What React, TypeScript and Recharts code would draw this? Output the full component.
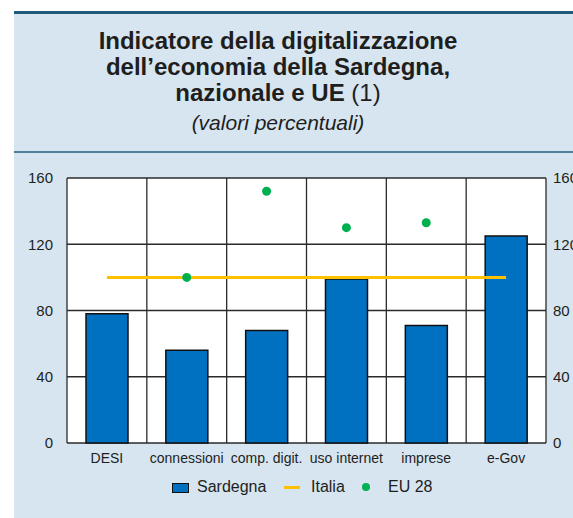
import { Bar, CartesianGrid, ComposedChart, Legend, Line, XAxis, YAxis } from "recharts";

const categories = ["DESI", "connessioni", "comp. digit.", "uso internet", "imprese", "e-Gov"];
const sardegna = [78, 56, 68, 99, 71, 125];
const italia = [100, 100, 100, 100, 100, 100];
const eu28: (number | null)[] = [null, 100, 152, 130, 133, null];
const yTicks = [0, 40, 80, 120, 160];

const data = categories.map((name, i) => ({
  name,
  sardegna: sardegna[i],
  italia: italia[i],
  eu: eu28[i],
}));

const FONT = "'Liberation Sans', Arial, sans-serif";
const PANEL = "#d6e5ef";
const TEXT = "#1e1e1e";

function LegendBox() {
  const item = { position: "absolute" as const, top: 0, lineHeight: "20px" };
  return (
    <div style={{ position: "relative", height: 20, fontFamily: FONT, fontSize: 16, color: TEXT }}>
      <span style={{ position: "absolute", left: 172, top: 6, width: 15, height: 8, background: "#0070c0", border: "1.5px solid #111" }} />
      <span style={{ ...item, left: 197 }}>Sardegna</span>
      <span style={{ position: "absolute", left: 284, top: 9, width: 16, height: 3, background: "#ffc000" }} />
      <span style={{ ...item, left: 311 }}>Italia</span>
      <span style={{ position: "absolute", left: 362, top: 6, width: 8, height: 8, borderRadius: 4, background: "#00b050" }} />
      <span style={{ ...item, left: 388 }}>EU 28</span>
    </div>
  );
}

export default function App() {
  return (
    <div style={{ position: "absolute", left: 0, top: 0, width: 573, height: 518, overflow: "hidden", background: "#fff" }}>
      <div style={{ position: "absolute", left: 14, top: 11, right: 0, bottom: 0, background: PANEL }} />
      <div style={{ position: "absolute", left: 14, top: 11, right: 0, height: 3, background: "#1f5a7a" }} />
      <div style={{ position: "absolute", left: 14, top: 151, right: 0, height: 2, background: "#4f8099" }} />
      <div
        style={{
          position: "absolute",
          left: 14,
          width: 528,
          top: 28,
          textAlign: "center",
          fontFamily: FONT,
          fontWeight: "bold",
          fontSize: 24,
          lineHeight: "26px",
          color: TEXT,
        }}
      >
        Indicatore della digitalizzazione
        <br />
        dell’economia della Sardegna,
        <br />
        nazionale e UE <span style={{ fontWeight: "normal" }}>(1)</span>
      </div>
      <div
        style={{
          position: "absolute",
          left: 14,
          width: 528,
          top: 110,
          textAlign: "center",
          fontFamily: FONT,
          fontStyle: "italic",
          fontSize: 21,
          lineHeight: "26px",
          color: TEXT,
        }}
      >
        (valori percentuali)
      </div>
      <div style={{ position: "absolute", left: 0, top: 152 }}>
        <ComposedChart width={573} height={366} data={data} margin={{ top: 26, right: 7, bottom: 21, left: 0 }}>
          <CartesianGrid
            yAxisId="left"
            stroke="#2a2a2a"
            strokeWidth={1.3}
            fill="#fff"
            verticalCoordinatesGenerator={({ offset }: any) =>
              categories.map((_, i) => offset.left + (i * offset.width) / categories.length).concat(offset.left + offset.width)
            }
          />
          <XAxis
            dataKey="name"
            axisLine={false}
            tickLine={false}
            tickSize={0}
            tickMargin={10}
            height={34}
            interval={0}
            tick={{ fontSize: 14, fill: TEXT, fontFamily: FONT }}
          />
          <YAxis
            yAxisId="left"
            domain={[0, 160]}
            ticks={yTicks}
            axisLine={false}
            tickLine={false}
            tickSize={0}
            tickMargin={14}
            width={67}
            tick={{ fontSize: 15, fill: TEXT, fontFamily: FONT }}
          />
          <YAxis
            yAxisId="right"
            orientation="right"
            domain={[0, 160]}
            ticks={yTicks}
            axisLine={false}
            tickLine={false}
            tickSize={0}
            tickMargin={7}
            width={20}
            tick={{ fontSize: 15, fill: TEXT, fontFamily: FONT, textAnchor: "start" }}
          />
          <Legend verticalAlign="bottom" content={() => <LegendBox />} wrapperStyle={{ height: 20 }} />
          <Bar
            yAxisId="left"
            dataKey="sardegna"
            name="Sardegna"
            fill="#0070c0"
            stroke="#111"
            strokeWidth={1.5}
            barSize={42}
            isAnimationActive={false}
          />
          <Line
            yAxisId="right"
            dataKey="italia"
            name="Italia"
            stroke="#ffc000"
            strokeWidth={3}
            dot={false}
            activeDot={false}
            isAnimationActive={false}
          />
          <Line
            yAxisId="left"
            dataKey="eu"
            name="EU 28"
            stroke="none"
            dot={{ r: 4.5, fill: "#00b050", stroke: "none" }}
            activeDot={false}
            isAnimationActive={false}
          />
        </ComposedChart>
      </div>
    </div>
  );
}
